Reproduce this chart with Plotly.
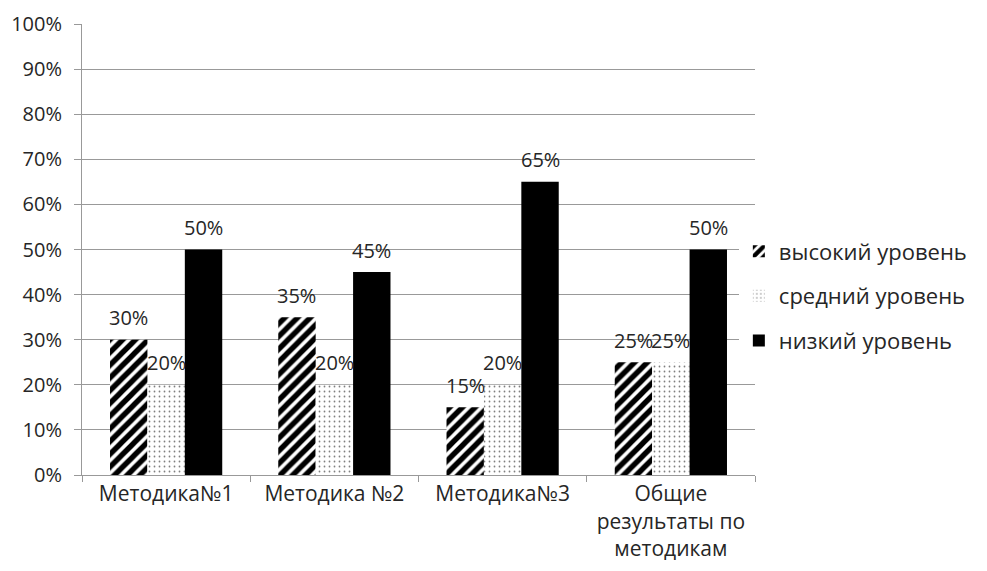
import plotly.graph_objects as go

categories = ["Методика№1", "Методика №2", "Методика№3", "Общие<br>результаты по<br>методикам"]
series_names = ["высокий уровень", "средний уровень", "низкий уровень"]
high = [30, 35, 15, 25]
medium = [20, 20, 20, 25]
low = [50, 45, 65, 50]
y_ticks = [0, 10, 20, 30, 40, 50, 60, 70, 80, 90, 100]
y_tick_labels = [f"{v}%" for v in y_ticks]

series_values = [high, medium, low]
patterns = [
    dict(shape="/", fgcolor="black", bgcolor="white", size=9, solidity=0.6, fgopacity=1),
    dict(shape=".", fgcolor="black", bgcolor="white", size=5, solidity=0.1),
    dict(shape="", fgcolor="black", bgcolor="black"),
]

FONT = "Open Sans, Liberation Sans, sans-serif"
TXT = "#262626"
fig = go.Figure()
for i, (name, vals, pat) in enumerate(zip(series_names, series_values, patterns)):
    fig.add_trace(go.Bar(
        x=categories, y=vals, name=name,
        marker=dict(color="black" if i == 2 else "white", pattern=pat, line=dict(width=0)),
        legendgroup=f"g{i}",
    ))

# value labels above each bar
bar_px = 37.4
for i, vals in enumerate(series_values):
    for c, v in zip(categories, vals):
        fig.add_annotation(
            x=c, y=v, text=f"{v}%", showarrow=False,
            xshift=(i - 1) * bar_px, yshift=22,
            font=dict(family=FONT, size=20, color=TXT),
        )

fig.update_layout(
    width=987, height=571,
    margin=dict(l=82, r=232, t=24, b=96),
    paper_bgcolor="white", plot_bgcolor="white",
    barmode="group", bargap=0.333, bargroupgap=0,
    font=dict(family=FONT, size=20, color=TXT),
    showlegend=True,
    legend=dict(
        x=0.976, y=0.397, xanchor="left", yanchor="middle",
        font=dict(family=FONT, size=22, color=TXT),
        tracegroupgap=13, itemwidth=30,
    ),
)
fig.update_xaxes(
    type="category", tickson="boundaries", ticks="outside", ticklen=6,
    tickcolor="#999", showline=True, linecolor="#999", linewidth=1,
    showgrid=False, tickfont=dict(size=21, color=TXT), automargin=False,
)
fig.update_yaxes(
    range=[0, 100], tickvals=y_ticks, ticktext=y_tick_labels,
    ticks="outside", ticklen=7, tickcolor="#999",
    showline=True, linecolor="#999", linewidth=1,
    showgrid=True, gridcolor="#999", gridwidth=1, zeroline=False,
    tickfont=dict(size=20, color=TXT), ticklabelstandoff=8, automargin=False,
)
fig.write_html("out.html")
